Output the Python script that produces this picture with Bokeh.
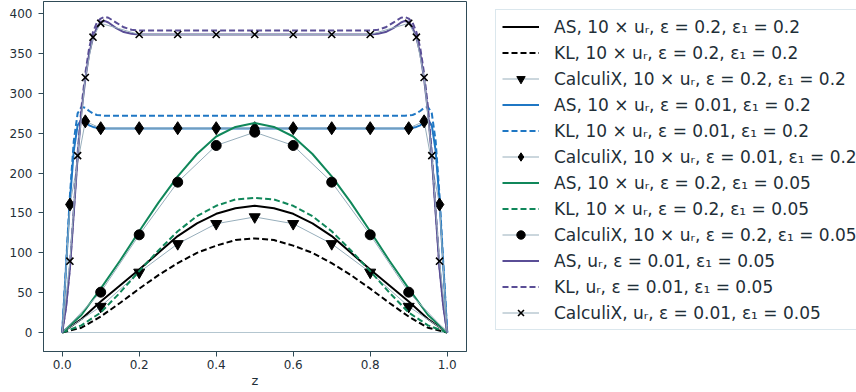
from bokeh.plotting import figure
from bokeh.models import Range1d, Legend, LegendItem, FixedTicker, NumeralTickFormatter
from bokeh.layouts import row
from bokeh.embed import file_html
from bokeh.resources import INLINE

# ---------------- data ----------------
z_smooth = [0.0, 0.05, 0.10, 0.15, 0.20, 0.25, 0.30, 0.35, 0.40, 0.45, 0.50,
            0.55, 0.60, 0.65, 0.70, 0.75, 0.80, 0.85, 0.90, 0.95, 1.0]
as_e02_e102 = [0, 17, 39, 59, 79, 100, 121, 137, 149, 156, 159,
               156, 149, 137, 121, 100, 79, 59, 39, 17, 0]
kl_e02_e102 = [0, 6, 20, 37, 55, 72, 87, 100, 109, 116, 118,
               116, 109, 100, 87, 72, 55, 37, 20, 6, 0]
as_e02_e1005 = [0, 22, 55, 90, 127, 163, 196, 224, 246, 258, 263,
                258, 246, 224, 196, 163, 127, 90, 55, 22, 0]
kl_e02_e1005 = [0, 9, 25, 50, 77, 103, 127, 146, 159, 167, 169,
                167, 159, 146, 127, 103, 77, 50, 25, 9, 0]

z_edge = [0.0, 0.01, 0.02, 0.03, 0.04, 0.05, 0.06, 0.07, 0.08, 0.09, 0.10, 0.11, 0.12,
          0.14, 0.16, 0.18, 0.20, 0.30, 0.40, 0.50, 0.60, 0.70, 0.80, 0.82, 0.84, 0.86,
          0.88, 0.89, 0.90, 0.91, 0.92, 0.93, 0.94, 0.95, 0.96, 0.97, 0.98, 0.99, 1.0]
as_e001_e102 = [0, 82, 165, 228, 260, 267, 264, 260, 258, 257, 256.5, 256, 256,
                256, 256, 256, 256, 256, 256, 256, 256, 256, 256, 256, 256, 256,
                256, 256, 256.5, 257, 258, 260, 264, 267, 260, 228, 165, 82, 0]
kl_e001_e102 = [0, 85, 172, 240, 275, 283, 282, 278, 275, 273, 272.5, 272, 272,
                272, 272, 272, 272, 272, 272, 272, 272, 272, 272, 272, 272, 272,
                272, 272, 272.5, 273, 275, 278, 282, 283, 275, 240, 172, 85, 0]
as_e001_e1005 = [0, 32, 80, 150, 220, 277, 318, 350, 370, 383, 390, 391, 389,
                 382, 377, 375, 374, 374, 374, 374, 374, 374, 374, 375, 377, 382,
                 389, 391, 390, 383, 370, 350, 318, 277, 220, 150, 80, 32, 0]
kl_e001_e1005 = [0, 33, 82, 153, 225, 283, 325, 357, 377, 389, 394, 396, 395,
                 389, 383, 380, 379, 379, 379, 379, 379, 379, 379, 380, 383, 389,
                 395, 396, 394, 389, 377, 357, 325, 283, 225, 153, 82, 33, 0]

z_cx = [0.0, 0.1, 0.2, 0.3, 0.4, 0.5, 0.6, 0.7, 0.8, 0.9, 1.0]
cx_e02_e102 = [0, 32.6, 75.5, 111.3, 136.5, 145, 136.5, 111.3, 75.5, 32.6, 0]
cx_e02_e1005 = [0, 50.6, 122.6, 188.7, 234.7, 251.4, 234.7, 188.7, 122.6, 50.6, 0]
z_cx_d = [0.0, 0.02, 0.06, 0.1, 0.2, 0.3, 0.4, 0.5, 0.6, 0.7, 0.8, 0.9, 0.94, 0.98, 1.0]
cx_e001_e102 = [0, 160.6, 265, 256.4, 256.4, 256.4, 256.4, 256.4, 256.4, 256.4, 256.4,
                256.4, 265, 160.6, 0]
z_cx_x = [0.0, 0.02, 0.04, 0.06, 0.08, 0.1, 0.2, 0.3, 0.4, 0.5, 0.6, 0.7, 0.8,
          0.9, 0.92, 0.94, 0.96, 0.98, 1.0]
cx_e001_e1005 = [0, 89.5, 222, 320, 370.6, 388, 374, 374, 374, 374, 374, 374, 374,
                 388, 370.6, 320, 222, 89.5, 0]
z_base = [0.0, 1.0]
u_base = [0, 0]

x_ticks = [0.0, 0.2, 0.4, 0.6, 0.8, 1.0]
y_ticks = [0, 50, 100, 150, 200, 250, 300, 350, 400]
x_label = "z"

labels = [
    "AS, 10 × uᵣ, ε = 0.2, ε₁ = 0.2",
    "KL, 10 × uᵣ, ε = 0.2, ε₁ = 0.2",
    "CalculiX, 10 × uᵣ, ε = 0.2, ε₁ = 0.2",
    "AS, 10 × uᵣ, ε = 0.01, ε₁ = 0.2",
    "KL, 10 × uᵣ, ε = 0.01, ε₁ = 0.2",
    "CalculiX, 10 × uᵣ, ε = 0.01, ε₁ = 0.2",
    "AS, 10 × uᵣ, ε = 0.2, ε₁ = 0.05",
    "KL, 10 × uᵣ, ε = 0.2, ε₁ = 0.05",
    "CalculiX, 10 × uᵣ, ε = 0.2, ε₁ = 0.05",
    "AS, uᵣ, ε = 0.01, ε₁ = 0.05",
    "KL, uᵣ, ε = 0.01, ε₁ = 0.05",
    "CalculiX, uᵣ, ε = 0.01, ε₁ = 0.05",
]

# ---------------- styles ----------------
BLACK = "#000000"
BLUE = "#1f77c4"
GREEN = "#10875a"
PURPLE = "#5a4e96"
CXGRAY = "#97aebb"
SPINE = "#2f4b57"
TEXT = "#1f2f38"
FONT = "DejaVu Sans"

p = figure(width=486, height=392, output_backend="svg", toolbar_location=None,
           x_range=Range1d(-0.0486, 1.0501), y_range=Range1d(-23.85, 415.4),
           min_border_left=43, min_border_right=20, min_border_top=1,
           min_border_bottom=41)
p.xgrid.visible = False
p.ygrid.visible = False
p.outline_line_color = SPINE
p.outline_line_width = 1
p.background_fill_color = "white"
p.border_fill_color = "white"

for ax in (p.xaxis[0], p.yaxis[0]):
    ax.axis_line_color = SPINE
    ax.major_tick_line_color = SPINE
    ax.minor_tick_line_color = None
    ax.major_tick_out = 5
    ax.major_tick_in = 0
    ax.major_label_text_font = FONT
    ax.major_label_text_font_size = "12px"
    ax.major_label_text_color = TEXT
p.xaxis.ticker = FixedTicker(ticks=x_ticks)
p.xaxis.formatter = NumeralTickFormatter(format="0.0")
p.xaxis.major_label_standoff = 3
p.xaxis.axis_label = x_label
p.xaxis.axis_label_standoff = 1
p.xaxis.axis_label_text_font = FONT
p.xaxis.axis_label_text_font_size = "13px"
p.xaxis.axis_label_text_font_style = "normal"
p.xaxis.axis_label_text_color = TEXT
p.yaxis.ticker = FixedTicker(ticks=y_ticks)
p.yaxis.major_label_standoff = 6

p.line(z_base, u_base, line_color="#b4c6d0", line_width=1)

LINE_STYLES = [
    dict(line_color=BLACK), dict(line_color=BLACK, line_dash="6 3"), None,
    dict(line_color=BLUE), dict(line_color=BLUE, line_dash="6 3"), None,
    dict(line_color=GREEN), dict(line_color=GREEN, line_dash="6 3"), None,
    dict(line_color=PURPLE), dict(line_color=PURPLE, line_dash="6 3"), None,
]
MARKERS = {2: ("inverted_triangle", 11, 1), 5: ("diamond", 13, 1),
           8: ("circle", 10, 1), 11: ("x", 10, 1.6)}
series = [
    (z_smooth, as_e02_e102), (z_smooth, kl_e02_e102), (z_cx, cx_e02_e102),
    (z_edge, as_e001_e102), (z_edge, kl_e001_e102), (z_cx_d, cx_e001_e102),
    (z_smooth, as_e02_e1005), (z_smooth, kl_e02_e1005), (z_cx, cx_e02_e1005),
    (z_edge, as_e001_e1005), (z_edge, kl_e001_e1005), (z_cx_x, cx_e001_e1005),
]

# legend panel as a separate figure (no axes); its frame is aligned with p's frame
p2 = figure(width=370, height=392, output_backend="svg", toolbar_location=None,
            x_range=Range1d(0, 1), y_range=Range1d(5000, 6000),
            min_border_left=0, min_border_right=0, min_border_top=1,
            min_border_bottom=41, x_axis_location=None, y_axis_location=None)
p2.xgrid.visible = False
p2.ygrid.visible = False
p2.outline_line_color = None
p2.border_fill_color = "white"
p2.background_fill_color = "white"

items = []
for i, (zs, us) in enumerate(series):
    # proxies for the legend glyphs (their data lie outside p2's visible range)
    if LINE_STYLES[i] is not None:
        p.line(zs, us, line_width=2, **LINE_STYLES[i])
        proxy = [p2.line(zs[:2], us[:2], line_width=2, **LINE_STYLES[i])]
    else:
        mk, sz, lw = MARKERS[i]
        p.line(zs, us, line_color=CXGRAY, line_width=1)
        p.scatter(zs[1:-1], us[1:-1], marker=mk, size=sz, fill_color=BLACK,
                  line_color=BLACK, line_width=lw)
        proxy = [p2.line(zs[:2], us[:2], line_color=CXGRAY, line_width=1),
                 p2.scatter(zs[1:2], us[1:2], marker=mk, size=sz * 0.7,
                            fill_color=BLACK, line_color=BLACK, line_width=lw)]
    items.append(LegendItem(label=labels[i], renderers=proxy))

legend = Legend(items=items, location=(9, 21),
                label_text_font=FONT, label_text_font_size="17px",
                label_text_color=TEXT,
                glyph_width=37, glyph_height=21, label_height=21,
                spacing=5, padding=6, margin=0, label_standoff=15,
                border_line_color="#b8d0dc", border_line_width=1,
                background_fill_color="white", background_fill_alpha=1)
p2.add_layout(legend)

open("out.html", "w").write(file_html(row(p, p2), INLINE))
